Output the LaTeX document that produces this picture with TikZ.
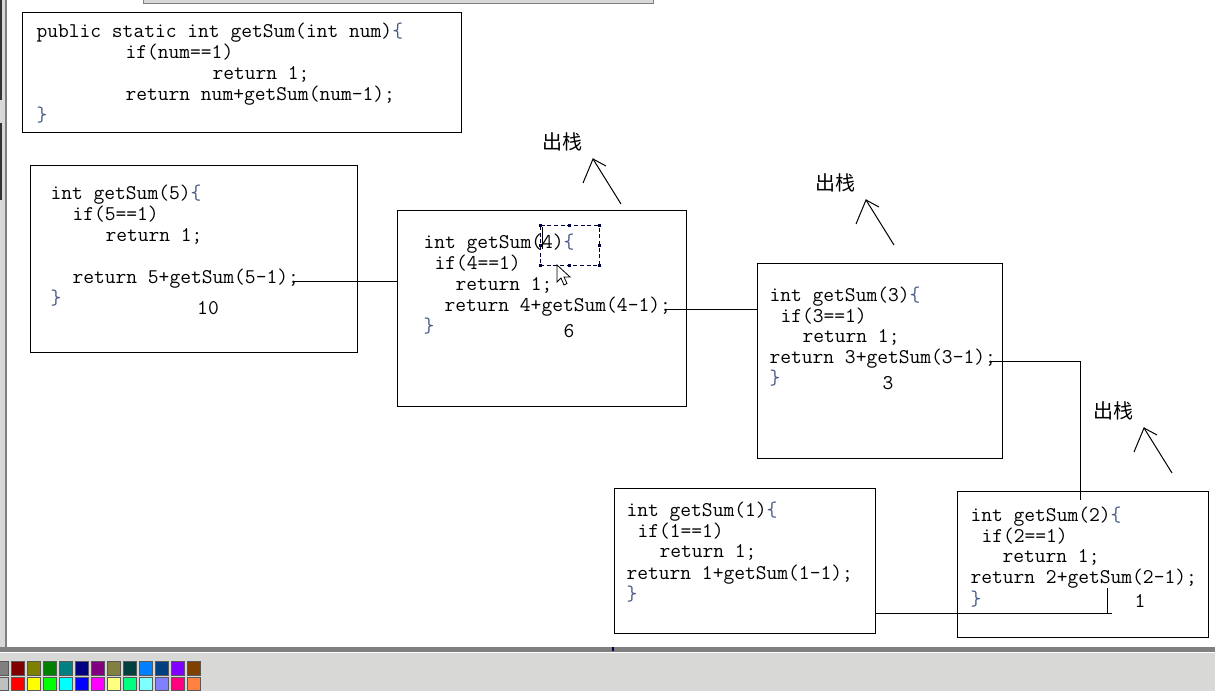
\documentclass[tikz,border=0pt]{standalone}
\usepackage{fontspec}
\newfontfamily\cjk{Noto Sans CJK SC}
\definecolor{brc}{RGB}{70,90,135}
\definecolor{winbar}{RGB}{128,128,128}
\definecolor{winface}{RGB}{216,216,214}
\definecolor{selc}{RGB}{0,0,64}
\newcommand\opbr{\textcolor{brc}{\{}}
\newcommand\clbr{\textcolor{brc}{\}}}

\begin{document}
\begin{tikzpicture}[x=0.75pt,y=-0.75pt,line width=0.75pt,
  box/.style={draw,anchor=north west,inner sep=0pt,outer sep=0pt},
  code/.style={font=\ttfamily\fontsize{15.7pt}{18pt}\selectfont,anchor=base west,inner sep=0pt},
  res/.style={code,anchor=base},
  poplbl/.style={font=\cjk\fontsize{15pt}{18pt}\selectfont,inner sep=0pt},
  wire/.style={shorten <=-4pt}]
\useasboundingbox (0,0) rectangle (1215,691);
\fill[white] (0,0) rectangle (1215,691);
% paint window frame
\filldraw[fill=winface,draw=winbar] (143,-2) rectangle (653,3.5);
\fill[winface] (0,0) rectangle (6,647);
\draw[winbar,line width=1.5pt] (6,0) -- (6,647);
\draw[black!80,line width=1.5pt] (1,0) -- (1,100) (1,123) -- (1,200);
\fill[winbar] (0,647) rectangle (1215,652);
\fill[white] (0,652) rectangle (1215,653);
\fill[winface] (0,653) rectangle (1215,691);
\fill[selc] (612,647) rectangle (614,651);
\foreach \c [count=\i from 0] in {808080,800000,808000,008000,008080,000080,800080,808040,004040,0080FF,004080,8000FF,804000}{
  \definecolor{pc}{HTML}{\c}
  \filldraw[fill=pc,draw=black!65] (-4.3+16*\i,662) rectangle ++(13,13);
}
\foreach \c [count=\i from 0] in {C0C0C0,FF0000,FFFF00,00FF00,00FFFF,0000FF,FF00FF,FFFF80,00FF80,80FFFF,8080FF,FF0080,FF8040}{
  \definecolor{pc}{HTML}{\c}
  \filldraw[fill=pc,draw=black!65] (-4.3+16*\i,677) rectangle ++(13,13);
}
% boxes
\foreach \n/\xa/\ya/\xb/\yb in {0/22/13/461/133,5/30/166/357/353,4/397/211/686/407,3/757/264/1002/459,1/614/489/875/634,2/957/492/1208/638}
  \node[box,minimum width={(\xb-\xa)*0.75pt},minimum height={(\yb-\ya)*0.75pt}] (b\n) at (\xa,\ya) {};
% the method
\node[code] (m1) at (36,38) {public static int getSum(int num)\opbr};
\node[code] (m2) at (125,59) {if(num==1)};
\node[code] (m3) at (212,80) {return 1;};
\node[code] (m4) at (125,101) {return num+getSum(num-1);};
\node[code] (m5) at (36,122) {\clbr};
% getSum(5)
\node[code] (f5) at (50,200) {int getSum(5)\opbr};
\node[code] (i5) at (72,221) {if(5==1)};
\node[code] (o5) at (105,242) {return 1;};
\node[code] (r5) at (72,284) {return 5+getSum(5-1);};
\node[code] (e5) at (50,305) {\clbr};
\node[res] (v5) at (208,315) {10};
% getSum(4)
\node[code] (f4) at (423,249) {int getSum(4)\opbr};
\node[code] (i4) at (434,270) {if(4==1)};
\node[code] (o4) at (455,291) {return 1;};
\node[code] (r4) at (444,312) {return 4+getSum(4-1);};
\node[code] (e4) at (423,333) {\clbr};
\node[res] (v4) at (569,338) {6};
% getSum(3)
\node[code] (f3) at (769,302) {int getSum(3)\opbr};
\node[code] (i3) at (780,323) {if(3==1)};
\node[code] (o3) at (802,343) {return 1;};
\node[code] (r3) at (769,364) {return 3+getSum(3-1);};
\node[code] (e3) at (769,385) {\clbr};
\node[res] (v3) at (888,390) {3};
% getSum(2)
\node[code] (f2) at (970,522) {int getSum(2)\opbr};
\node[code] (i2) at (981,543) {if(2==1)};
\node[code] (o2) at (1002,563) {return 1;};
\node[code] (r2) at (970,584) {return 2+getSum(2-1);};
\node[code] (e2) at (970,605) {\clbr};
\node[res] (v2) at (1140,608) {1};
% getSum(1)
\node[code] (f1) at (626,517) {int getSum(1)\opbr};
\node[code] (i1) at (637,538) {if(1==1)};
\node[code] (o1) at (659,558) {return 1;};
\node[code] (r1) at (626,580) {return 1+getSum(1-1);};
\node[code] (e1) at (626,600) {\clbr};
% calls
\draw[wire] (r5.mid east) -- (r5.mid east -| b4.west);
\draw[wire] (r4.mid east) -- (r4.mid east -| b3.west);
\coordinate (j2) at (1080,500);
\draw[wire] (r3.mid east) -| (j2);
\coordinate (k2) at (1112,614);
\coordinate (k1) at (1107,588);
\draw (k2 -| b1.east) -- (k2);
\draw (k1) -- (k1 |- k2);
% pop marks
\foreach \n/\x/\y in {1/593/159,2/866/200,3/1144/428}{
  \coordinate (tip\n) at (\x,\y);
  \node[poplbl] (pop\n) at (\x-31,\y-17) {出栈};
  \draw ([shift={(28,45)}]tip\n) -- (tip\n) -- ([shift={(-10,24)}]tip\n);
  \draw (tip\n) -- ([shift={(13,7)}]tip\n);
}
% selection and cursors
\draw[selc,dash pattern=on 3pt off 2pt] (540,226) rectangle (599,266);
\foreach \x/\y in {540/226,569.5/226,599/226,540/246,599/246,540/266,569.5/266,599/266}
  \fill[selc] (\x-1.5,\y-1.5) rectangle ++(3,3);
\draw (542,227) -- (542,249);
\draw[fill=white,line width=0.6pt] (557,265) -- ++(0,17) -- ++(4,-4) -- ++(3,7) -- ++(3,-1.5) -- ++(-3,-6.5) -- ++(6,0) -- cycle;
\end{tikzpicture}
\end{document}
